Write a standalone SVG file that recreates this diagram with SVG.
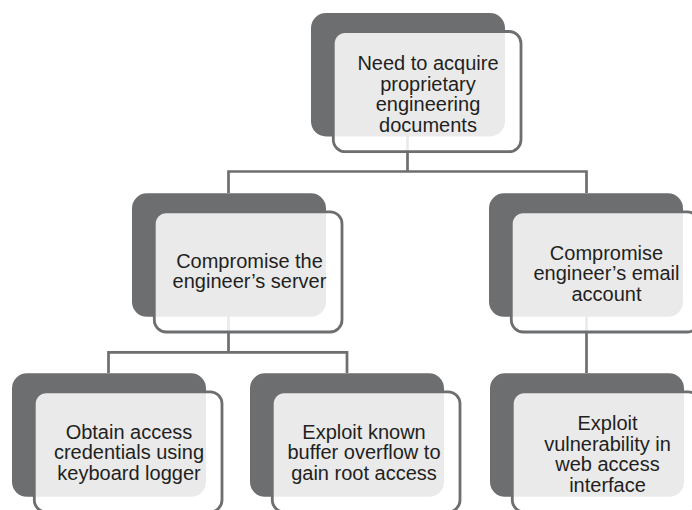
<svg xmlns="http://www.w3.org/2000/svg" width="692" height="510" viewBox="0 0 692 510">
<style>
.back{fill:#6d6e70}
.front{fill:#ffffff;fill-opacity:0.86;stroke:#6d6e70;stroke-width:2.8}
.conn{fill:none;stroke:#6d6e70;stroke-width:2.7}
text{font-family:"Liberation Sans",Arial,sans-serif;font-size:20px;fill:#231f20;text-anchor:middle}
</style>
<rect width="692" height="510" fill="#ffffff"/>
<g id="connectors">
<path class="conn" d="M407.5 120 V171.5 M228.5 193 V171.5 H586.5 V193"/>
<path class="conn" d="M228.5 300 V352.3 M108.5 373 V352.3 H347 V373"/>
<path class="conn" d="M586.5 300 V373"/>
</g>
<g id="n-root">
<rect class="back" x="311" y="13" width="194" height="123.5" rx="15"/>
<rect class="front" x="333.3" y="31.5" width="187.7" height="120.2" rx="12"/>
<text x="428" y="70">Need to acquire</text>
<text x="428" y="90.7">proprietary</text>
<text x="428" y="111.4">engineering</text>
<text x="428" y="132.1">documents</text>
</g>
<g id="n-server">
<rect class="back" x="132" y="193.3" width="194" height="123.5" rx="15"/>
<rect class="front" x="154.3" y="211.8" width="187.7" height="120.2" rx="12"/>
<text x="249.5" y="267.5">Compromise the</text>
<text x="249.5" y="288.2">engineer’s server</text>
</g>
<g id="n-email">
<rect class="back" x="489" y="193.3" width="194" height="123.5" rx="15"/>
<rect class="front" x="511.3" y="211.8" width="187.7" height="120.2" rx="12"/>
<text x="606.5" y="259.5">Compromise</text>
<text x="606.5" y="280.2">engineer’s email</text>
<text x="606.5" y="300.9">account</text>
</g>
<g id="n-keylogger">
<rect class="back" x="12" y="373.3" width="194" height="123.5" rx="15"/>
<rect class="front" x="34.3" y="391.8" width="187.7" height="120.2" rx="12"/>
<text x="129" y="438.5">Obtain access</text>
<text x="129" y="459.2">credentials using</text>
<text x="129" y="479.9">keyboard logger</text>
</g>
<g id="n-overflow">
<rect class="back" x="250" y="373.3" width="194" height="123.5" rx="15"/>
<rect class="front" x="272.3" y="391.8" width="187.7" height="120.2" rx="12"/>
<text x="364" y="438.5">Exploit known</text>
<text x="364" y="459.2">buffer overflow to</text>
<text x="364" y="479.9">gain root access</text>
</g>
<g id="n-webvuln">
<rect class="back" x="490" y="373.3" width="194" height="123.5" rx="15"/>
<rect class="front" x="512.3" y="391.8" width="187.7" height="120.2" rx="12"/>
<text x="607.5" y="430">Exploit</text>
<text x="607.5" y="450.7">vulnerability in</text>
<text x="607.5" y="471.4">web access</text>
<text x="607.5" y="492.1">interface</text>
</g>
</svg>
